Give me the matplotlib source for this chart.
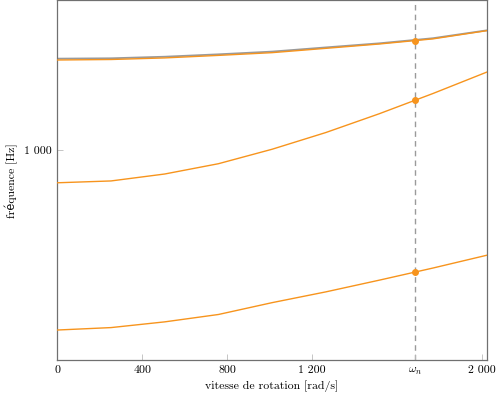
import matplotlib
matplotlib.use("Agg")
import matplotlib.pyplot as plt
from matplotlib.ticker import FixedLocator, NullLocator
import numpy as np

plt.rcParams['font.family'] = ['cmr10', 'DejaVu Serif']
plt.rcParams['mathtext.fontset'] = 'cm'
plt.rcParams['axes.formatter.use_mathtext'] = True

# vitesse de rotation [rad/s]
omega = [0, 253, 506, 759, 1012, 1265, 1517, 1770, 2023]
omega_n = 1686

# fréquences propres [Hz]
mode1 = [398, 403, 415, 431, 458, 484, 514, 547, 584]
mode2 = [847, 855, 886, 934, 1006, 1096, 1207, 1339, 1494]
mode3 = [1590, 1594, 1607, 1628, 1651, 1688, 1726, 1772, 1848]
mode3_ref = [1601, 1604, 1617, 1637, 1660, 1696, 1732, 1778, 1851]

# valeurs à omega_n
at_omega_n = [536, 1295, 1757]

xticks = [0, 400, 800, 1200, omega_n, 2000]
xticklabels = ['0', '400', '800', '1 200', r'$\omega_n$', '2 000']

orange = '#f7941d'
grey = '#9a9a9a'

fig = plt.figure(figsize=(5.0, 3.98), dpi=100)
ax = fig.add_axes([0.1146, 0.0955, 0.8588, 0.9035])

ax.plot(omega, mode3_ref, color=grey, lw=1.3, zorder=2)
for m in (mode1, mode2, mode3):
    ax.plot(omega, m, color=orange, lw=1.0, zorder=3)
ax.plot([omega_n] * 3, at_omega_n, 'o', color=orange, ms=4, zorder=4)
ax.axvline(omega_n, color=grey, lw=1.0, ls=(0, (4, 3)), zorder=1)

ax.set_yscale('log')
lo = np.log10(min(mode1))
hi = np.log10(max(mode3_ref))
pad = 0.1 * (hi - lo)
ax.set_ylim(10 ** (lo - pad), 10 ** (hi + pad))
ax.set_xlim(0, omega[-1])

ax.yaxis.set_major_locator(FixedLocator([1000]))
ax.yaxis.set_minor_locator(NullLocator())
ax.set_yticklabels(['1 000'])
ax.set_xticks(xticks)
ax.set_xticklabels(xticklabels)

ax.tick_params(direction='in', length=4, width=0.6, color='#bbbbbb',
               labelsize=8.5, pad=4)
for s in ax.spines.values():
    s.set_color('#707070')
    s.set_linewidth(0.9)

ax.set_xlabel('vitesse de rotation [rad/s]', fontsize=8.5, labelpad=3)
ax.set_ylabel('fréquence [Hz]', fontsize=8.5, labelpad=4)

fig.savefig('out.png', dpi=100)
